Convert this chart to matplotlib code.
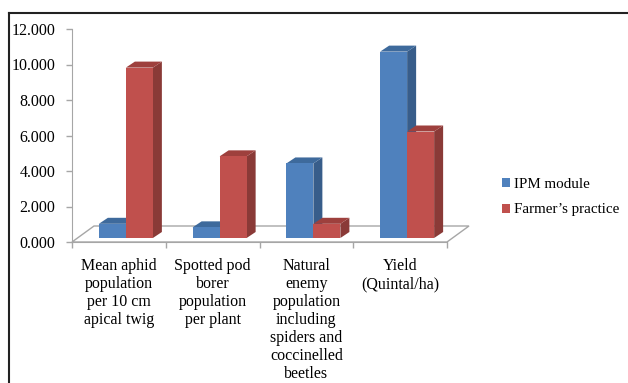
import matplotlib.pyplot as plt
from matplotlib.patches import Polygon, Patch
from matplotlib.lines import Line2D

plt.rcParams['font.family'] = ['Liberation Serif', 'DejaVu Serif']

categories = ["Mean aphid\npopulation\nper 10 cm\napical twig",
              "Spotted pod\nborer\npopulation\nper plant",
              "Natural\nenemy\npopulation\nincluding\nspiders and\ncoccinelled\nbeetles",
              "Yield\n(Quintal/ha)"]
ipm = [0.8, 0.6, 4.2, 10.5]
farmer = [9.6, 4.6, 0.8, 6.0]
series_names = ["IPM module", "Farmer\u2019s practice"]
yticks = [0, 2, 4, 6, 8, 10, 12]

# colours: front, top, side
blue = ('#4F81BD', '#3E6A9C', '#385D8A')
red = ('#C0504D', '#9E403D', '#8A3A37')

W, H = 628, 383
fig = plt.figure(figsize=(W / 100, H / 100), dpi=100)
ax = fig.add_axes([72 / W, (H - 242) / H, (447 - 72) / W, (242 - 29) / H])
ax.set_xlim(-0.5, 3.5)
ax.set_ylim(0, 12)

# pixel -> data unit conversion
px_x = 4 / 375
px_y = 12 / 213

# floor (3d base)
fdx, fdy = 22 * px_x, 16 * px_y
floor = Polygon([(-0.5, 0), (-0.5 + fdx, fdy), (3.5 + fdx, fdy), (3.5, 0)],
                closed=True, facecolor='white', edgecolor='#A6A6A6', lw=1.0,
                clip_on=False, zorder=1)
ax.add_patch(floor)

# bar geometry
bw = 27 * px_x
shift_x, base = 7 * px_x, 4 * px_y
bdx, bdy = 9 * px_x, 6 * px_y


def draw_bar(x0, val, cols, z):
    x1 = x0 + bw
    top = base + val
    ax.bar(x0, val, width=bw, bottom=base, align='edge', color=cols[0],
           edgecolor='none', zorder=z + 0.2, clip_on=False)
    ax.add_patch(Polygon([(x0, top), (x0 + bdx, top + bdy), (x1 + bdx, top + bdy), (x1, top)],
                         facecolor=cols[1], edgecolor='none', zorder=z + 0.1, clip_on=False))
    ax.add_patch(Polygon([(x1, base), (x1 + bdx, base + bdy), (x1 + bdx, top + bdy), (x1, top)],
                         facecolor=cols[2], edgecolor='none', zorder=z, clip_on=False))


for i in range(len(categories)):
    c = i + shift_x
    draw_bar(c - bw, ipm[i], blue, 2 + i)
    draw_bar(c, farmer[i], red, 2.5 + i)

# axes styling
for s in ['top', 'right']:
    ax.spines[s].set_visible(False)
for s in ['left', 'bottom']:
    ax.spines[s].set_color('#A6A6A6')
ax.set_facecolor('none')
ax.set_yticks(yticks)
ax.set_yticklabels([f"{v:.3f}" for v in yticks], fontsize=11.5)
ax.set_xticks([-0.5, 0.5, 1.5, 2.5, 3.5])
ax.set_xticklabels([])
ax.tick_params(axis='both', direction='out', length=4, color='#A6A6A6', width=1)
ax.tick_params(axis='y', pad=8)

# category labels under the floor
for i, lab in enumerate(categories):
    ax.text(i, -16 / 213, lab, transform=ax.get_xaxis_transform(), ha='center', va='top',
            fontsize=11.5, linespacing=1.17)

handles = [Patch(facecolor=blue[0]), Patch(facecolor=red[0])]
fig.legend(handles, series_names, loc='center left', bbox_to_anchor=(488 / W, 1 - 197 / H),
           frameon=False, fontsize=10.8, handlelength=0.55, handleheight=0.55,
           handletextpad=0.3, labelspacing=0.85)

# outer frame
fig.add_artist(Line2D([9 / W, 1], [1 - 13 / H, 1 - 13 / H], color='#222222', lw=1.5))
fig.add_artist(Line2D([9 / W, 9 / W], [0, 1 - 13 / H], color='#222222', lw=1.5))

fig.savefig('out.png', dpi=100)
